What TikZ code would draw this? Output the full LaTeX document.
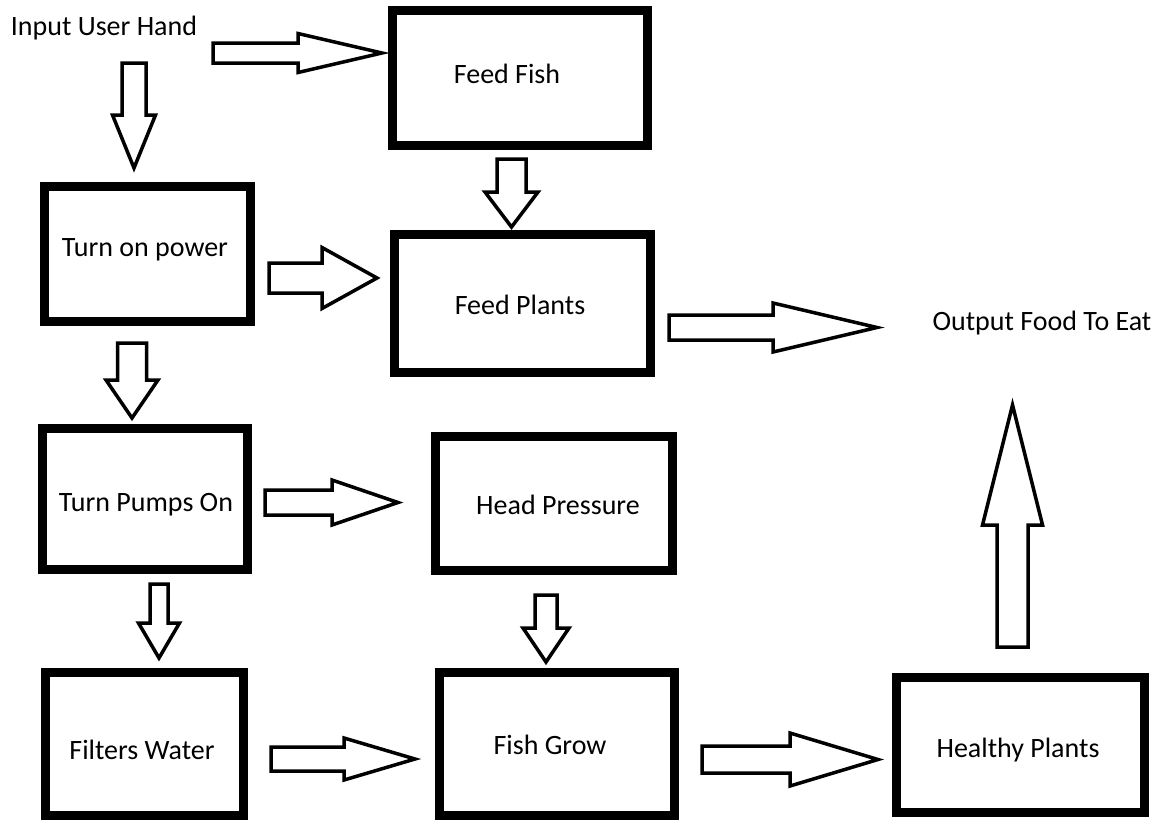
\documentclass[tikz,border=0pt]{standalone}
\usepackage{fontspec}
\setmainfont{Carlito}
\tikzset{
  box/.style={draw=black, line width=9pt, fill=white, inner sep=0pt},
  lbl/.style={font=\fontsize{28}{33}\selectfont, inner sep=0pt, text=black, anchor=center},
  blockarrow/.style={draw=black, line width=3.5pt, fill=white, line join=miter},
}
% #1 tail coordinate, #2 angle, #3 length, #4 shaft half width, #5 head half width, #6 head length
\newcommand\blockarr[6]{%
  \begin{scope}[shift={(#1)},rotate=#2]
    \draw[blockarrow] (0,-#4) -- ({#3-#6},-#4) -- ({#3-#6},-#5) -- (#3,0)
      -- ({#3-#6},#5) -- ({#3-#6},#4) -- (0,#4) -- cycle;
  \end{scope}}
\begin{document}
\begin{tikzpicture}[x=1pt,y=-1pt]
\useasboundingbox[fill=white] (0,0) rectangle (1157,820);

% boxes
\node[box, minimum width=255pt, minimum height=135pt] (ff)  at (520,78) {};
\node[box, minimum width=256pt, minimum height=138pt] (fp)  at (522.5,303.5) {};
\node[box, minimum width=206pt, minimum height=135pt] (tp)  at (147.5,254) {};
\node[box, minimum width=205pt, minimum height=141pt] (pu)  at (145,499) {};
\node[box, minimum width=237pt, minimum height=134pt] (hp)  at (554,503.5) {};
\node[box, minimum width=198pt, minimum height=143pt] (fw)  at (144.5,744) {};
\node[box, minimum width=235pt, minimum height=143pt] (fg)  at (557,744) {};
\node[box, minimum width=248pt, minimum height=135pt] (hpl) at (1020.5,745) {};

% labels
\node[lbl] (in)   at (104,28)   {Input User Hand};
\node[lbl] (out)  at (1042,323) {Output Food To Eat};
\node[lbl] (ff-t) at (507,74)   {Feed Fish};
\node[lbl] (fp-t) at (520,305)  {Feed Plants};
\node[lbl] (tp-t) at (145,250)  {Turn on power};
\node[lbl] (pu-t) at (146,505)  {Turn Pumps On};
\node[lbl] (hp-t) at (558,505)  {Head Pressure};
\node[lbl] (fw-t) at (142,750)  {Filters Water};
\node[lbl] (fg-t) at (550,745)  {Fish Grow};
\node[lbl] (hpl-t) at (1018,750) {Healthy Plants};

% arrow tails
\coordinate (a1) at (213,53);
\coordinate (a2) at (134,63);
\coordinate (a3) at (511.5,159);
\coordinate (a4) at (269,278);
\coordinate (a5) at (132,343);
\coordinate (a6) at (669,327.5);
\coordinate (a7) at (265,502.5);
\coordinate (a8) at (159,584);
\coordinate (a9) at (546,595);
\coordinate (a10) at (271,759);
\coordinate (a11) at (702,759.5);
\coordinate (a12) at (1012.5,647);

\blockarr{a1}{0}{169}{10}{19.5}{84}
\blockarr{a2}{-90}{105}{12}{21.5}{53}
\blockarr{a3}{-90}{68}{14.5}{26.5}{35}
\blockarr{a4}{0}{108}{15}{30.5}{55}
\blockarr{a5}{-90}{75}{14.5}{26}{38}
\blockarr{a6}{0}{208}{12.5}{24.5}{104}
\blockarr{a7}{0}{133}{12.5}{22.5}{66}
\blockarr{a8}{-90}{74}{9}{20.5}{35}
\blockarr{a9}{-90}{67}{11}{23}{34}
\blockarr{a10}{0}{144}{12}{21}{71}
\blockarr{a11}{0}{176}{13.5}{26.5}{88}
\blockarr{a12}{90}{242}{15.5}{30}{120}
\end{tikzpicture}
\end{document}
